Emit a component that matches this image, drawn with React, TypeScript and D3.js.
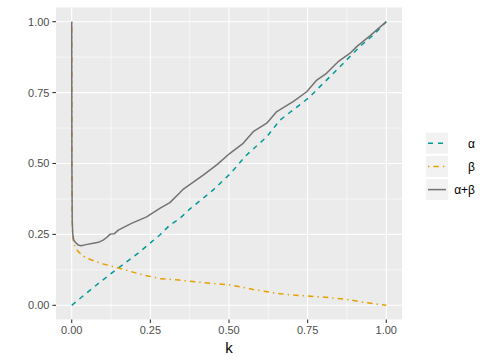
import React from "react";
import * as d3 from "d3";

// values
const alphaK = [0, 0.069, 0.132, 0.217, 0.28, 0.312, 0.342, 0.376, 0.45, 0.503, 0.556, 0.62, 0.662, 0.704, 0.752, 0.789, 0.832, 0.874, 0.916, 0.959, 1];
const alphaV = [0, 0.063, 0.118, 0.189, 0.248, 0.283, 0.305, 0.34, 0.407, 0.463, 0.53, 0.594, 0.653, 0.689, 0.73, 0.771, 0.818, 0.865, 0.912, 0.953, 1];

const betaK = [0, 0.0005, 0.0015, 0.003, 0.006, 0.01, 0.02, 0.035, 0.048, 0.07, 0.1, 0.154, 0.217, 0.28, 0.342, 0.418, 0.503, 0.577, 0.652, 0.704, 0.789, 0.874, 0.938, 1];
const betaV = [1, 0.5, 0.3, 0.245, 0.22, 0.207, 0.19, 0.175, 0.166, 0.157, 0.146, 0.13, 0.11, 0.094, 0.089, 0.08, 0.072, 0.056, 0.042, 0.036, 0.03, 0.021, 0.009, 0];

const sumK = [0, 0.0005, 0.0015, 0.003, 0.006, 0.01, 0.02, 0.03, 0.045, 0.069, 0.085, 0.1, 0.112, 0.122, 0.135, 0.148, 0.19, 0.238, 0.28, 0.312, 0.342, 0.355, 0.418, 0.461, 0.503, 0.545, 0.577, 0.62, 0.652, 0.692, 0.704, 0.747, 0.779, 0.81, 0.847, 0.885, 0.906, 0.948, 1];
const sumV = [1, 0.5, 0.3, 0.255, 0.232, 0.224, 0.213, 0.21, 0.214, 0.219, 0.222, 0.23, 0.24, 0.251, 0.252, 0.265, 0.289, 0.312, 0.342, 0.362, 0.395, 0.41, 0.459, 0.495, 0.536, 0.571, 0.612, 0.642, 0.683, 0.71, 0.718, 0.753, 0.794, 0.818, 0.859, 0.889, 0.912, 0.95, 1];

const ticks = [0, 0.25, 0.5, 0.75, 1];
const minorTicks = [0.125, 0.375, 0.625, 0.875];
const legendLabels = ["α", "β", "α+β"];

const W = 490, H = 360;
const panel = { left: 56, right: 402, top: 7.5, bottom: 319.5 };

export default function App() {
  const x = d3.scaleLinear().domain([-0.05, 1.05]).range([panel.left, panel.right]);
  const y = d3.scaleLinear().domain([-0.05, 1.05]).range([panel.bottom, panel.top]);
  const line = d3.line<[number, number]>().x((d) => x(d[0])).y((d) => y(d[1]));

  const series = [
    { label: legendLabels[0], pts: alphaK.map((k, i) => [k, alphaV[i]] as [number, number]), color: "#009A98", dash: "5,5" },
    { label: legendLabels[1], pts: betaK.map((k, i) => [k, betaV[i]] as [number, number]), color: "#E69F00", dash: "1.4,4,5.5,4" },
    { label: legendLabels[2], pts: sumK.map((k, i) => [k, sumV[i]] as [number, number]), color: "#737373", dash: "none" },
  ];

  const font = "'Liberation Sans', Arial, sans-serif";

  return (
    <svg width={W} height={H} style={{ position: "absolute", left: 0, top: 0, fontFamily: font }}>
      <rect width={W} height={H} fill="white" />
      <rect x={panel.left} y={panel.top} width={panel.right - panel.left} height={panel.bottom - panel.top} fill="#EBEBEB" />
      {minorTicks.map((t) => (
        <g key={"m" + t}>
          <line x1={x(t)} x2={x(t)} y1={panel.top} y2={panel.bottom} stroke="white" strokeWidth={0.55} />
          <line x1={panel.left} x2={panel.right} y1={y(t)} y2={y(t)} stroke="white" strokeWidth={0.55} />
        </g>
      ))}
      {ticks.map((t) => (
        <g key={"M" + t}>
          <line x1={x(t)} x2={x(t)} y1={panel.top} y2={panel.bottom} stroke="white" strokeWidth={1.1} />
          <line x1={panel.left} x2={panel.right} y1={y(t)} y2={y(t)} stroke="white" strokeWidth={1.1} />
        </g>
      ))}
      {series.map((s) => (
        <path key={s.label} d={line(s.pts) || ""} fill="none" stroke={s.color} strokeWidth={1.5}
          strokeDasharray={s.dash} strokeLinejoin="round" />
      ))}
      {/* axes */}
      {ticks.map((t) => (
        <g key={"ax" + t} fill="#4D4D4D" fontSize={11}>
          <line x1={x(t)} x2={x(t)} y1={panel.bottom} y2={panel.bottom + 3.6} stroke="#333333" strokeWidth={1.1} />
          <text x={x(t)} y={panel.bottom + 14.5} textAnchor="middle">{d3.format(".2f")(t)}</text>
          <line x1={panel.left - 3.6} x2={panel.left} y1={y(t)} y2={y(t)} stroke="#333333" strokeWidth={1.1} />
          <text x={panel.left - 6.5} y={y(t)} dy="0.36em" textAnchor="end">{d3.format(".2f")(t)}</text>
        </g>
      ))}
      <text x={(panel.left + panel.right) / 2} y={353} textAnchor="middle" fontSize={15} fill="black">k</text>
      {/* legend */}
      {series.map((s, i) => {
        const ky = 132.7 + i * 23.2;
        return (
          <g key={"lg" + s.label}>
            <rect x={426} y={ky} width={22} height={21} fill="#F2F2F2" />
            <line x1={428} x2={446} y1={ky + 10.5} y2={ky + 10.5} stroke={s.color} strokeWidth={1.5} strokeDasharray={s.dash} />
            <text x={475} y={ky + 10.5} dy="0.36em" textAnchor="end" fontSize={12} fill="black">{s.label}</text>
          </g>
        );
      })}
    </svg>
  );
}
